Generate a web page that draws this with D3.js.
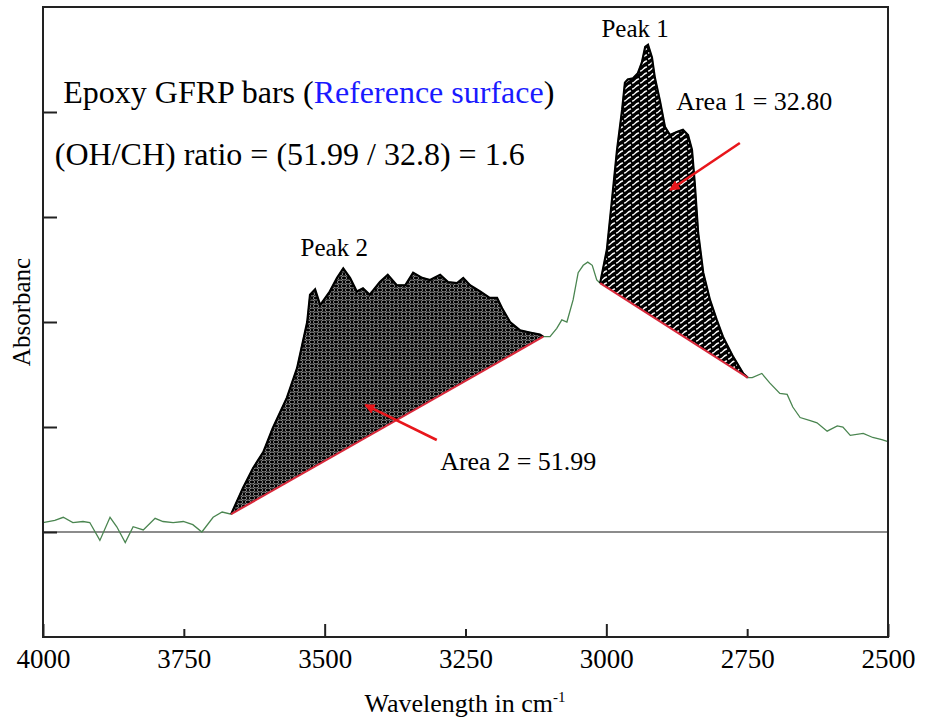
<!DOCTYPE html>
<html><head><meta charset="utf-8">
<script src="https://cdn.jsdelivr.net/npm/d3@7"></script>
<style>
body{margin:0;background:#fff}
svg{display:block}
svg text{font-family:"Liberation Serif","Times New Roman",Times,serif !important;fill:#000}
</style>
</head><body>
<svg id="c" width="934" height="725"></svg>
<script>
// ---------- data ----------
const wavenumber = [4000,3979,3964,3947,3929,3917,3899,3881,3869,3854,3840,3822,3801,3787,3769,3751,3734,3718,3698,3682,
  3666,3645,3627,3609,3592,3567,3549,3531,3526,3517,3508,3491,3478,3467,3455,3443,3432,3420,3402,3388,3372,3357,3343,3327,
  3313,3295,3281,3265,3254,3242,3224,3207,3194,3185,3171,3153,3136,3118,3112,
  3100,3088,3079,3070,3059,3050,3041,3033,3025,3017,
  3011,2999,2990,2981,2972,2967,2962,2953,2944,2937,2931,2926,2919,2914,2905,2896,2887,2875,2864,2855,2848,2843,2837,2828,
  2816,2804,2793,2775,2757,2749,
  2741,2724,2710,2692,2679,2669,2656,2638,2626,2608,2590,2580,2567,2544,2527,2511,2500];
const absorbance = [0.009,0.011,0.014,0.009,0.010,0.009,-0.008,0.014,0.005,-0.010,0.005,0.002,0.013,0.010,0.009,0.010,0.007,0.000,0.014,0.019,
  0.017,0.042,0.061,0.076,0.099,0.128,0.156,0.200,0.226,0.231,0.216,0.229,0.242,0.251,0.242,0.229,0.232,0.226,0.238,0.245,0.235,0.235,0.247,0.242,
  0.240,0.245,0.238,0.237,0.242,0.235,0.229,0.223,0.223,0.213,0.200,0.192,0.190,0.188,0.186,
  0.186,0.194,0.202,0.200,0.221,0.247,0.254,0.257,0.254,0.240,
  0.237,0.269,0.316,0.364,0.402,0.428,0.431,0.432,0.437,0.447,0.462,0.464,0.452,0.433,0.411,0.386,0.378,0.381,0.383,0.378,0.364,0.332,0.285,0.247,
  0.221,0.202,0.186,0.167,0.151,0.147,
  0.147,0.151,0.142,0.132,0.131,0.119,0.109,0.106,0.104,0.096,0.101,0.100,0.092,0.094,0.090,0.088,0.086];
const xTickValues = [4000,3750,3500,3250,3000,2750,2500];
const yTickValues = [0,0.1,0.2,0.3,0.4];
const peak1Range = [3011,2749];
const peak2Range = [3666,3112];
const peakNames = ["Peak 1","Peak 2"];
const areaNames = ["Area 1 = 32.80","Area 2 = 51.99"];
const titleParts = ["Epoxy GFRP bars (","Reference surface",")"];
const ratioText = "(OH/CH) ratio = (51.99 / 32.8) = 1.6";

// ---------- layout ----------
const SERIF = '"Liberation Serif","Times New Roman",Times,serif';
const svg = d3.select("#c");
const x = d3.scaleLinear().domain([4000,2500]).range([43,888]);
const y = d3.scaleLinear().domain([-0.1,0.5]).range([637,7]);
const data = wavenumber.map((w,i)=>({w, a:absorbance[i]}));

const defs = svg.append("defs");
// honeycomb pattern for peak 2
const p2 = defs.append("pattern").attr("id","pat2").attr("patternUnits","userSpaceOnUse")
  .attr("width",8).attr("height",8);
p2.append("rect").attr("width",8).attr("height",8).attr("fill","#000");
[[4,2],[0,6],[8,6],[0,-2],[8,-2],[4,10]].forEach(([cx,cy])=>{
  p2.append("ellipse").attr("cx",cx).attr("cy",cy).attr("rx",2.6).attr("ry",2.0)
    .attr("fill","none").attr("stroke","#fff").attr("stroke-width",0.55);
});
// slanted wave pattern for peak 1
const p1 = defs.append("pattern").attr("id","pat1").attr("patternUnits","userSpaceOnUse")
  .attr("width",8).attr("height",6);
p1.append("rect").attr("width",8).attr("height",6).attr("fill","#000");
p1.append("path").attr("d","M0.5,5 C2.5,5 3.5,1.5 6.5,1").attr("fill","none")
  .attr("stroke","#fff").attr("stroke-width",1.4).attr("stroke-linecap","round");

defs.append("marker").attr("id","arr").attr("viewBox","0 0 10 10").attr("refX",9).attr("refY",5)
  .attr("markerWidth",4).attr("markerHeight",4).attr("orient","auto")
  .append("path").attr("d","M0,0 L10,5 L0,10 z").attr("fill","#e8161b");

// zero line
svg.append("line").attr("x1",x(4000)).attr("x2",x(2500)).attr("y1",y(0)).attr("y2",y(0))
  .attr("stroke","#8c8c8c").attr("stroke-width",2);

// spectrum
const line = d3.line().x(d=>x(d.w)).y(d=>y(d.a));
svg.append("path").datum(data).attr("d",line).attr("fill","none")
  .attr("stroke","#4a8550").attr("stroke-width",1.3);

function peak(range, pat){
  const seg = data.filter(d=>d.w<=range[0] && d.w>=range[1]);
  const s = seg[0], e = seg[seg.length-1];
  const base = w => s.a + (e.a-s.a)*(w-s.w)/(e.w-s.w);
  const area = d3.area().x(d=>x(d.w)).y0(d=>y(base(d.w))).y1(d=>y(d.a));
  svg.append("path").datum(seg).attr("d",area).attr("fill",`url(#${pat})`);
  svg.append("path").datum(seg).attr("d",line).attr("fill","none").attr("stroke","#000").attr("stroke-width",2.2);
  svg.append("line").attr("x1",x(s.w)).attr("y1",y(s.a)).attr("x2",x(e.w)).attr("y2",y(e.a))
    .attr("stroke","#d8283a").attr("stroke-width",2);
}
peak(peak2Range,"pat2");
peak(peak1Range,"pat1");

// axes
const gx = svg.append("g").attr("transform",`translate(0,${y(-0.1)})`)
  .call(d3.axisBottom(x).tickValues(xTickValues).tickSize(-13).tickPadding(26).tickFormat(d3.format("d")));
gx.attr("font-family",SERIF);
gx.selectAll(".tick line").attr("y2",d=>d%500===0?-13:-8).attr("stroke","#222").attr("stroke-width",2);
gx.selectAll(".tick text").attr("font-size",27).style("font-family",SERIF).attr("fill","#000").attr("dy","0.2em");
gx.select(".domain").remove();

const gy = svg.append("g").attr("transform",`translate(${x(4000)},0)`)
  .call(d3.axisLeft(y).tickValues(yTickValues).tickSize(-14).tickFormat(""));
gy.selectAll(".tick line").attr("stroke","#222").attr("stroke-width",2);
gy.select(".domain").remove();

svg.append("rect").attr("x",x(4000)).attr("y",y(0.5)).attr("width",x(2500)-x(4000)).attr("height",y(-0.1)-y(0.5))
  .attr("fill","none").attr("stroke","#222").attr("stroke-width",2);

// axis titles
const xt = svg.append("text").attr("x",465).attr("y",712).attr("text-anchor","middle").attr("font-size",26).style("font-family",SERIF);
xt.append("tspan").text("Wavelength in cm");
xt.append("tspan").attr("font-size",15).attr("dy",-10).text("-1");
svg.append("text").attr("transform","translate(30,312) rotate(-90)").attr("text-anchor","middle")
  .attr("font-size",25).style("font-family",SERIF).text("Absorbanc");

// annotations
const t1 = svg.append("text").attr("x",x(3964)).attr("y",y(0.4086)).attr("font-size",32).style("font-family",SERIF);
t1.append("tspan").text(titleParts[0]);
t1.append("tspan").style("fill","#1a1aff").text(titleParts[1]);
t1.append("tspan").text(titleParts[2]);
svg.append("text").attr("x",x(3979)).attr("y",y(0.3495)).attr("font-size",32).style("font-family",SERIF).text(ratioText);

svg.append("text").attr("x",x(2949)).attr("y",y(0.471)).attr("text-anchor","middle").attr("font-size",25).style("font-family",SERIF).text(peakNames[0]);
svg.append("text").attr("x",x(3483)).attr("y",y(0.263)).attr("text-anchor","middle").attr("font-size",25).style("font-family",SERIF).text(peakNames[1]);
svg.append("text").attr("x",x(2876)).attr("y",y(0.402)).attr("font-size",26).style("font-family",SERIF).text(areaNames[0]);
svg.append("text").attr("x",x(3295)).attr("y",y(0.059)).attr("font-size",26).style("font-family",SERIF).text(areaNames[1]);

// arrows
[[2763,0.3705,2887,0.3257],[3301,0.0876,3428,0.121]].forEach(([w1,a1,w2,a2])=>{
  svg.append("line").attr("x1",x(w1)).attr("y1",y(a1)).attr("x2",x(w2)).attr("y2",y(a2))
    .attr("stroke","#e8161b").attr("stroke-width",2.6).attr("marker-end","url(#arr)");
});
</script>
</body></html>
